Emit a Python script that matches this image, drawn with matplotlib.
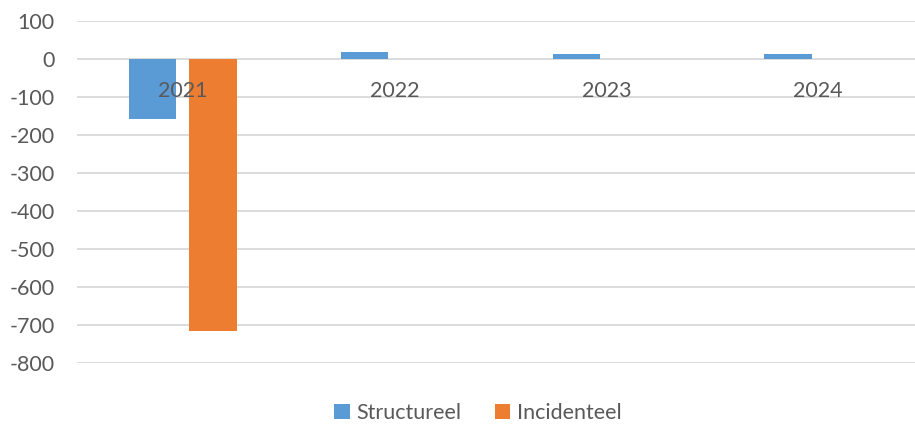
import matplotlib

matplotlib.use("Agg")
import matplotlib.pyplot as plt
import numpy as np

# Data
years = ["2021", "2022", "2023", "2024"]
structureel = [-157, 19, 14, 14]
incidenteel = [-715, 0, 0, 0]
y_ticks = [100, 0, -100, -200, -300, -400, -500, -600, -700, -800]

_BLUE = "#5B9BD5"
_ORANGE = "#ED7D31"
_GRID = "#D9D9D9"
_TEXT = "#595959"

plt.rcParams["font.family"] = ["Lato", "DejaVu Sans"]

fig = plt.figure(figsize=(9.15, 4.26), dpi=100)
# plot area runs a little past the right edge, like the Excel original
ax = fig.add_axes([77 / 915, 1 - 363 / 426, (924 - 77) / 915, (363 - 21) / 426])

x = np.arange(len(years))
width = 0.223
offset = 0.142
ax.bar(x - offset, structureel, width, color=_BLUE, label="Structureel", zorder=3)
ax.bar(x + offset, incidenteel, width, color=_ORANGE, label="Incidenteel", zorder=3)

ax.set_xlim(-0.5, len(years) - 0.5)
ax.set_ylim(-800, 100)
ax.set_yticks(y_ticks)
ax.set_yticklabels([str(v) for v in y_ticks])
ax.grid(True, axis="y", color=_GRID, linewidth=1.3, zorder=0)

for side in ax.spines:
    ax.spines[side].set_visible(False)

# category labels sit just under the zero line, drawn on top of the bars
ax.set_xticks([])
for i, year in enumerate(years):
    ax.annotate(year, (x[i], 0), xytext=(0, -16), textcoords="offset points",
                ha="center", va="top", fontsize=15.5, color=_TEXT, zorder=5)

ax.tick_params(axis="y", length=0, pad=16, labelsize=15.5, labelcolor=_TEXT)

leg = fig.legend(loc="center", bbox_to_anchor=(478 / 915, 1 - 413 / 426),
                 ncol=2, frameon=False, fontsize=15.5, handlelength=0.7,
                 handleheight=0.7, handletextpad=0.3, columnspacing=1.6)
for t in leg.get_texts():
    t.set_color(_TEXT)

fig.savefig("out.png", dpi=100, facecolor="white")
plt.close(fig)
